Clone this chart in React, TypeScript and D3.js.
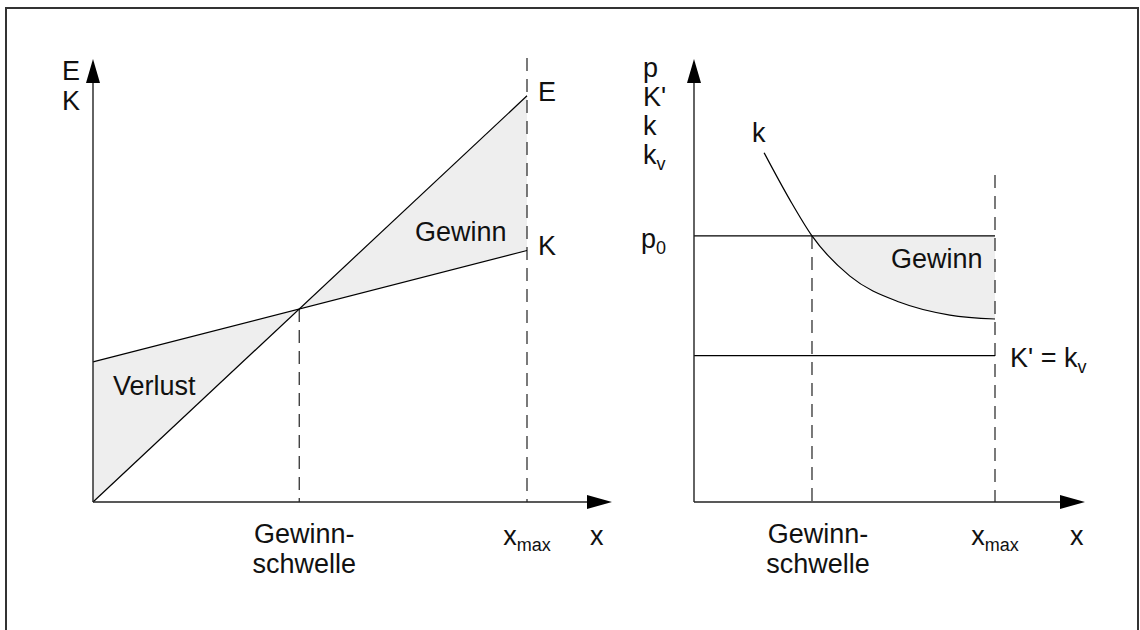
import React from "react";
import * as d3 from "d3";

// ---------- Data (left chart: revenue E and cost K over quantity x) ----------
const leftX = [0, 100]; // x from 0 to x_max
const revenueE = [0, 91.9]; // E at x = 0 and x = x_max
const costK = [31.7, 56.9]; // K at x = 0 and x = x_max

// ---------- Data (right chart: unit values) ----------
const priceP0 = 60.2;
const marginalKv = 33.1;
const rightXmax = 100;
const unitCostX = [23.3, 31.9, 39.2, 51.8, 68.4, 85.0, 100];
const unitCostK = [79.0, 68.3, 60.2, 51.1, 45.2, 42.3, 41.4];

// ---------- Text labels ----------
const leftYLabels = ["E", "K"];
const rightYLabels = ["p", "K'", "k", "k"];
const breakEvenLabel = ["Gewinn-", "schwelle"];

const FONT = "'Liberation Sans', Arial, sans-serif";
const FS = 27;
const INK = "#111";
const AX = "#222";
const FILL = "#eeeeee";
const DASH = "13,8";

export default function App() {
  // scales
  const lx = d3.scaleLinear().domain([0, 100]).range([93, 527]);
  const ly = d3.scaleLinear().domain([0, 100]).range([502, 60]);
  const rx = d3.scaleLinear().domain([0, 100]).range([694, 995]);
  const ry = d3.scaleLinear().domain([0, 100]).range([502, 60]);

  // left chart geometry
  const slopeE = (revenueE[1] - revenueE[0]) / (leftX[1] - leftX[0]);
  const slopeK = (costK[1] - costK[0]) / (leftX[1] - leftX[0]);
  const beX = (costK[0] - revenueE[0]) / (slopeE - slopeK);
  const beY = revenueE[0] + slopeE * beX;

  const line = d3.line<[number, number]>();
  const ePath = line([
    [lx(leftX[0]), ly(revenueE[0])],
    [lx(leftX[1]), ly(revenueE[1])],
  ]);
  const kPath = line([
    [lx(leftX[0]), ly(costK[0])],
    [lx(leftX[1]), ly(costK[1])],
  ]);
  const lossPoly =
    line([
      [lx(0), ly(revenueE[0])],
      [lx(0), ly(costK[0])],
      [lx(beX), ly(beY)],
    ]) + "Z";
  const gainPoly =
    line([
      [lx(beX), ly(beY)],
      [lx(leftX[1]), ly(revenueE[1])],
      [lx(leftX[1]), ly(costK[1])],
    ]) + "Z";

  // right chart geometry
  const kPts: [number, number][] = unitCostX.map((x, i) => [x, unitCostK[i]]);
  const kLine = d3
    .line<[number, number]>()
    .x((d) => rx(d[0]))
    .y((d) => ry(d[1]))
    .curve(d3.curveMonotoneX);
  const beIdx = unitCostK.findIndex((v) => v <= priceP0);
  const rBeX = unitCostX[beIdx];
  const gainArea = d3
    .area<[number, number]>()
    .x((d) => rx(d[0]))
    .y0((d) => ry(d[1]))
    .y1(() => ry(priceP0))
    .curve(d3.curveMonotoneX);
  const gainPts = kPts.filter((d) => d[0] >= rBeX);

  const yArrow = (x: number, tip: number) =>
    `M${x},${tip} L${x - 7},${tip + 24} L${x + 7},${tip + 24} Z`;
  const xArrow = (tip: number, y: number) =>
    `M${tip},${y} L${tip - 25},${y - 7} L${tip - 25},${y + 7} Z`;

  const textProps = { fontFamily: FONT, fontSize: FS, fill: INK };

  return (
    <svg
      width={1140}
      height={630}
      style={{ position: "absolute", left: 0, top: 0, background: "#fff" }}
    >
      <rect x={6} y={8} width={1132} height={650} fill="#fff" stroke="#333" strokeWidth={2} />

      {/* ---------------- LEFT CHART ---------------- */}
      <path d={lossPoly} fill={FILL} />
      <path d={gainPoly} fill={FILL} />
      <line x1={lx(beX)} x2={lx(beX)} y1={ly(beY)} y2={ly(0)} stroke="#333" strokeWidth={1.3} strokeDasharray={DASH} />
      <line x1={lx(leftX[1])} x2={lx(leftX[1])} y1={58} y2={ly(0)} stroke="#333" strokeWidth={1.3} strokeDasharray={DASH} />
      <path d={ePath!} stroke="#000" strokeWidth={1.2} fill="none" />
      <path d={kPath!} stroke="#000" strokeWidth={1.2} fill="none" />
      {/* axes */}
      <line x1={lx(0)} x2={lx(0)} y1={ly(0)} y2={80} stroke={AX} strokeWidth={1.4} />
      <line x1={lx(0)} x2={590} y1={ly(0)} y2={ly(0)} stroke={AX} strokeWidth={1.4} />
      <path d={yArrow(lx(0), 59)} fill="#000" />
      <path d={xArrow(612, ly(0))} fill="#000" />
      {leftYLabels.map((t, i) => (
        <text key={t} x={62} y={80 + i * 30} {...textProps}>
          {t}
        </text>
      ))}
      <text x={lx(leftX[1]) + 11} y={ly(revenueE[1]) + 5} {...textProps}>E</text>
      <text x={lx(leftX[1]) + 11} y={ly(costK[1]) + 4} {...textProps}>K</text>
      <text x={415} y={241} {...textProps}>Gewinn</text>
      <text x={113} y={395} {...textProps}>Verlust</text>
      {breakEvenLabel.map((t, i) => (
        <text key={t} x={lx(beX) + 5} y={543 + i * 30} textAnchor="middle" {...textProps}>
          {t}
        </text>
      ))}
      <text x={lx(leftX[1])} y={545} textAnchor="middle" {...textProps}>
        x<tspan fontSize={18} dy={6}>max</tspan>
      </text>
      <text x={590} y={545} {...textProps}>x</text>

      {/* ---------------- RIGHT CHART ---------------- */}
      <path d={gainArea(gainPts)!} fill={FILL} />
      <line x1={rx(rBeX)} x2={rx(rBeX)} y1={ry(priceP0)} y2={ry(0)} stroke="#333" strokeWidth={1.3} strokeDasharray={DASH} />
      <line x1={rx(rightXmax)} x2={rx(rightXmax)} y1={175} y2={ry(0)} stroke="#333" strokeWidth={1.3} strokeDasharray={DASH} />
      <line x1={rx(0)} x2={rx(rightXmax)} y1={ry(priceP0)} y2={ry(priceP0)} stroke="#000" strokeWidth={1.2} />
      <line x1={rx(0)} x2={rx(rightXmax)} y1={ry(marginalKv)} y2={ry(marginalKv)} stroke="#000" strokeWidth={1.2} />
      <path d={kLine(kPts)!} stroke="#000" strokeWidth={1.2} fill="none" />
      {/* axes */}
      <line x1={rx(0)} x2={rx(0)} y1={ry(0)} y2={80} stroke={AX} strokeWidth={1.4} />
      <line x1={rx(0)} x2={1062} y1={ry(0)} y2={ry(0)} stroke={AX} strokeWidth={1.4} />
      <path d={yArrow(rx(0), 59)} fill="#000" />
      <path d={xArrow(1085, ry(0))} fill="#000" />
      {rightYLabels.map((t, i) => (
        <text key={i} x={643} y={77 + i * 29} {...textProps}>
          {t}
          {i === 3 ? <tspan fontSize={18} dy={6}>v</tspan> : null}
        </text>
      ))}
      <text x={641} y={ry(priceP0) + 12} {...textProps}>
        p<tspan fontSize={18} dy={6}>0</tspan>
      </text>
      <text x={752} y={142} {...textProps}>k</text>
      <text x={891} y={268} {...textProps}>Gewinn</text>
      <text x={1010} y={ry(marginalKv) + 11} {...textProps}>
        K' = k<tspan fontSize={18} dy={6}>v</tspan>
      </text>
      {breakEvenLabel.map((t, i) => (
        <text key={t} x={rx(rBeX) + 6} y={543 + i * 30} textAnchor="middle" {...textProps}>
          {t}
        </text>
      ))}
      <text x={rx(rightXmax)} y={545} textAnchor="middle" {...textProps}>
        x<tspan fontSize={18} dy={6}>max</tspan>
      </text>
      <text x={1070} y={545} {...textProps}>x</text>
    </svg>
  );
}
